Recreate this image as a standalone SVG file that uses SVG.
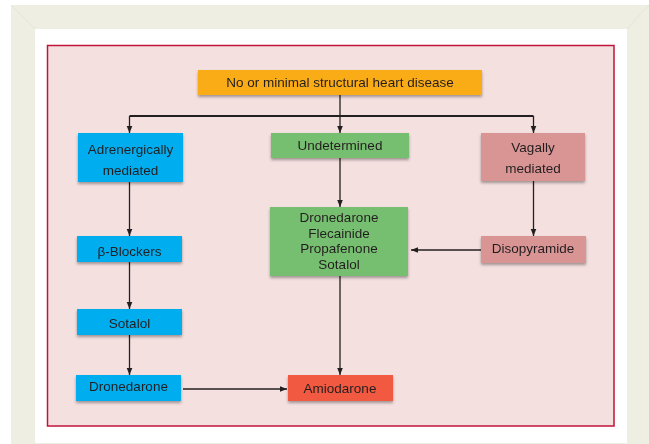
<svg xmlns="http://www.w3.org/2000/svg" width="649" height="444" viewBox="0 0 649 444">
  <defs>
    <filter id="sh" x="-10%" y="-20%" width="125%" height="150%">
      <feGaussianBlur in="SourceAlpha" stdDeviation="1.6"/>
      <feOffset dx="0" dy="2" result="b"/>
      <feComponentTransfer><feFuncA type="linear" slope="0.35"/></feComponentTransfer>
      <feMerge><feMergeNode/><feMergeNode in="SourceGraphic"/></feMerge>
    </filter>
    <marker id="ah" viewBox="0 0 8 8" refX="8" refY="4" markerWidth="7" markerHeight="7" markerUnits="userSpaceOnUse" orient="auto">
      <path d="M0,0.8 L8,4 L0,7.2 Z" fill="#231F20"/>
    </marker>
  </defs>
  <style>
    .t { font-family: "Liberation Sans", Arial, sans-serif; font-size: 13.5px; fill: #231F20; text-anchor: middle; }
    .c { stroke: #231F20; stroke-width: 1.3; fill: none; }
    .blue { fill: #00AEEF; }
    .green { fill: #77BF6F; }
    .rose { fill: #D99594; }
    .orange { fill: #FAAC19; }
    .red { fill: #F15A40; }
  </style>
  <!-- frame -->
  <rect x="0" y="0" width="649" height="444" fill="#FFFFFF"/>
  <rect x="11" y="5" width="638" height="439" fill="#EFEEE3"/>
  <path d="M11,5 L35,29 M649,5 L627,29" stroke="#E6E4D6" stroke-width="1"/>
  <rect x="35" y="29" width="592" height="414" fill="#FFFFFF"/>
  <rect x="47.5" y="45.5" width="566.5" height="380.5" fill="#F5E0E0" stroke="#C0143C" stroke-width="1.5"/>

  <g id="connectors">
    <line x1="340" y1="95" x2="340" y2="116" class="c"/>
    <line x1="129.5" y1="116" x2="533.5" y2="116" stroke="#231F20" stroke-width="2"/>
    <line x1="129.5" y1="116" x2="129.5" y2="133" class="c" marker-end="url(#ah)"/>
    <line x1="340" y1="116" x2="340" y2="133" class="c" marker-end="url(#ah)"/>
    <line x1="533.5" y1="116" x2="533.5" y2="133" class="c" marker-end="url(#ah)"/>
    <line x1="129.5" y1="182" x2="129.5" y2="236" class="c" marker-end="url(#ah)"/>
    <line x1="129.5" y1="262" x2="129.5" y2="309" class="c" marker-end="url(#ah)"/>
    <line x1="129.5" y1="335" x2="129.5" y2="375" class="c" marker-end="url(#ah)"/>
    <line x1="183" y1="389" x2="287" y2="389" class="c" marker-end="url(#ah)"/>
    <line x1="340" y1="158" x2="340" y2="207" class="c" marker-end="url(#ah)"/>
    <line x1="340" y1="276" x2="340" y2="375" class="c" marker-end="url(#ah)"/>
    <line x1="533.5" y1="181" x2="533.5" y2="236" class="c" marker-end="url(#ah)"/>
    <line x1="481" y1="250" x2="411" y2="250" class="c" marker-end="url(#ah)"/>
  </g>

  <g id="n-top" filter="url(#sh)">
    <rect x="198" y="70" width="284" height="25" class="orange"/>
    <text x="340" y="87" class="t">No or minimal structural heart disease</text>
  </g>
  <g id="n-adrenergic" filter="url(#sh)">
    <rect x="78" y="133" width="105" height="49" class="blue"/>
    <text x="130.5" y="154" class="t">Adrenergically</text>
    <text x="130.5" y="174.5" class="t">mediated</text>
  </g>
  <g id="n-undetermined" filter="url(#sh)">
    <rect x="271" y="133" width="138" height="25" class="green"/>
    <text x="340" y="149.5" class="t">Undetermined</text>
  </g>
  <g id="n-vagal" filter="url(#sh)">
    <rect x="481" y="133" width="104" height="48" class="rose"/>
    <text x="533" y="151.5" class="t">Vagally</text>
    <text x="533" y="172.5" class="t">mediated</text>
  </g>
  <g id="n-beta" filter="url(#sh)">
    <rect x="77" y="236" width="105" height="26" class="blue"/>
    <text x="129.5" y="255.5" class="t">β-Blockers</text>
  </g>
  <g id="n-drugs" filter="url(#sh)">
    <rect x="270" y="207" width="138" height="69" class="green"/>
    <text x="339" y="221.5" class="t">Dronedarone</text>
    <text x="339" y="237.5" class="t">Flecainide</text>
    <text x="339" y="253" class="t">Propafenone</text>
    <text x="339" y="268.5" class="t">Sotalol</text>
  </g>
  <g id="n-disopyramide" filter="url(#sh)">
    <rect x="481" y="236" width="105" height="27" class="rose"/>
    <text x="533" y="252.5" class="t">Disopyramide</text>
  </g>
  <g id="n-sotalol" filter="url(#sh)">
    <rect x="77" y="309" width="105" height="26" class="blue"/>
    <text x="129.5" y="327.5" class="t">Sotalol</text>
  </g>
  <g id="n-dronedarone" filter="url(#sh)">
    <rect x="76" y="375" width="105" height="26" class="blue"/>
    <text x="128.5" y="390.5" class="t">Dronedarone</text>
  </g>
  <g id="n-amiodarone" filter="url(#sh)">
    <rect x="288" y="375" width="105" height="26" class="red"/>
    <text x="340" y="392.5" class="t">Amiodarone</text>
  </g>
</svg>
